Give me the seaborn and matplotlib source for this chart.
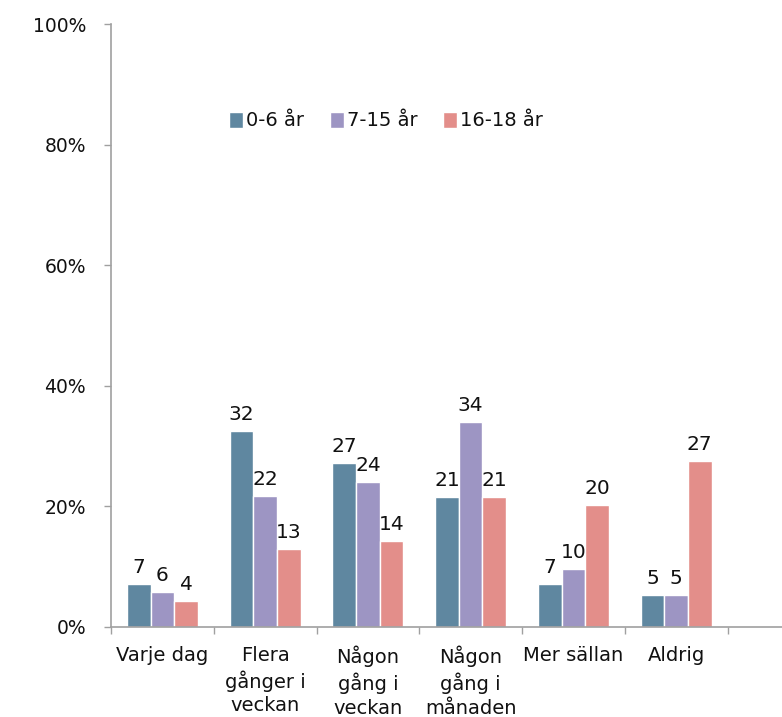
import numpy as np
import pandas as pd
import matplotlib
matplotlib.use("Agg")
import matplotlib.pyplot as plt
from matplotlib.ticker import FixedLocator, PercentFormatter
import seaborn as sns

# kategorier och serier
categories = ['Varje dag', 'Flera\ngånger i\nveckan', 'Någon\ngång i\nveckan',
              'Någon\ngång i\nmånaden', 'Mer sällan', 'Aldrig']
groups = ['0-6 år', '7-15 år', '16-18 år']
age_0_6 = [7.2, 32.5, 27.2, 21.6, 7.2, 5.3]
age_7_15 = [5.8, 21.8, 24.0, 34.0, 9.7, 5.3]
age_16_18 = [4.3, 13.0, 14.3, 21.6, 20.2, 27.5]
labels_0_6 = [7, 32, 27, 21, 7, 5]
labels_7_15 = [6, 22, 24, 34, 10, 5]
labels_16_18 = [4, 13, 14, 21, 20, 27]
colors = ['#5F87A0', '#9D95C3', '#E38E8A']

df = pd.DataFrame({
    'kategori': categories * 3,
    'grupp': np.repeat(groups, len(categories)),
    'andel': age_0_6 + age_7_15 + age_16_18,
})

sns.set_style('white')
plt.rcParams['font.family'] = ['DejaVu Sans']

fig = plt.figure(figsize=(7.82, 7.17), dpi=100)
ax = fig.add_axes([111 / 782, 1 - 627 / 717, 1 - 111 / 782, (627 - 24) / 717])

sns.barplot(data=df, x='kategori', y='andel', hue='grupp', order=categories,
            hue_order=groups, palette=colors, width=0.69, ax=ax,
            edgecolor='white', linewidth=1, saturation=1)

for cont, labs in zip(ax.containers, [labels_0_6, labels_7_15, labels_16_18]):
    ax.bar_label(cont, labels=[str(v) for v in labs], padding=5, fontsize=14.5,
                 color='#111111')

ax.set_ylim(0, 100)
ax.set_xlim(-0.5, 6.03)
ax.set_yticks(range(0, 101, 20))
ax.yaxis.set_major_formatter(PercentFormatter(decimals=0))
ax.set_xlabel('')
ax.set_ylabel('')

sns.despine(ax=ax, top=True, right=True)
for s in ['left', 'bottom']:
    ax.spines[s].set_color('#A0A0A0')
    ax.spines[s].set_linewidth(1.2)

ax.tick_params(axis='y', which='major', left=True, length=5, width=1,
               color='#A0A0A0', pad=13, labelsize=13.5, labelcolor='#111111')
ax.tick_params(axis='x', which='major', bottom=False, pad=10, labelsize=14,
               labelcolor='#111111')
ax.xaxis.set_minor_locator(FixedLocator(np.arange(-0.5, 6.0, 1.0)))
ax.tick_params(axis='x', which='minor', bottom=True, length=5, width=1,
               color='#A0A0A0')
for t in ax.get_xticklabels():
    t.set_linespacing(1.3)
    t.set_verticalalignment('top')

ax.legend(loc='center', bbox_to_anchor=((386 - 111) / 671, (627 - 121) / 603),
          ncol=3, frameon=False, fontsize=14, handlelength=0.75,
          handleheight=0.9, handletextpad=0.15, columnspacing=1.3,
          labelcolor='#111111')

fig.savefig('out.png', dpi=100, facecolor='white')
